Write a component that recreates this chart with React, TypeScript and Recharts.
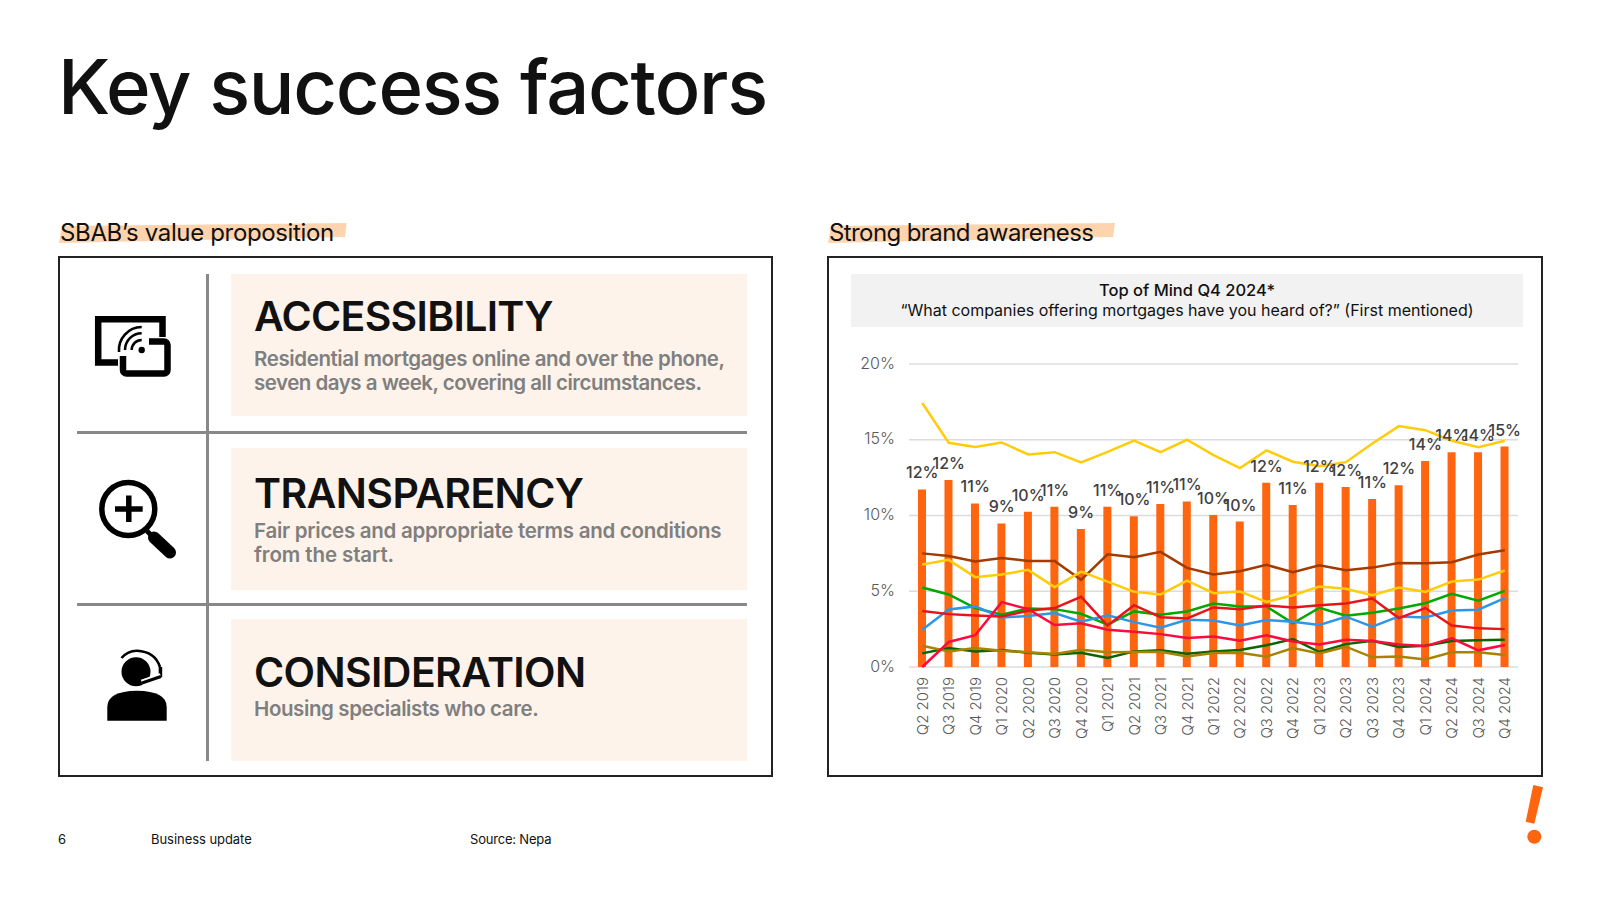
import React from "react"
import {
  ComposedChart,
  Bar,
  Line,
  XAxis,
  YAxis,
  CartesianGrid,
  LabelList,
} from "recharts"

const quarters = [
  "Q2 2019", "Q3 2019", "Q4 2019", "Q1 2020", "Q2 2020", "Q3 2020", "Q4 2020", "Q1 2021",
  "Q2 2021", "Q3 2021", "Q4 2021", "Q1 2022", "Q2 2022", "Q3 2022", "Q4 2022", "Q1 2023",
  "Q2 2023", "Q3 2023", "Q4 2023", "Q1 2024", "Q2 2024", "Q3 2024", "Q4 2024",
]
const sbab = [11.72, 12.34, 10.8, 9.48, 10.25, 10.58, 9.11, 10.58, 9.95, 10.76, 10.93, 10.03, 9.6, 12.16, 10.69, 12.16, 11.88, 11.09, 12.0, 13.6, 14.18, 14.18, 14.55]
const yellowTop = [17.43, 14.8, 14.53, 14.82, 14.03, 14.18, 13.5, 14.2, 14.95, 14.18, 15.0, 13.98, 13.13, 14.3, 13.55, 13.26, 13.52, 14.75, 15.9, 15.63, 14.93, 14.5, 14.93]
const brown = [7.5, 7.33, 6.96, 7.2, 7.0, 7.0, 5.75, 7.44, 7.25, 7.6, 6.54, 6.1, 6.32, 6.74, 6.26, 6.72, 6.39, 6.56, 6.87, 6.85, 6.92, 7.42, 7.7]
const yellowLow = [6.76, 7.07, 5.93, 6.1, 6.41, 5.27, 6.3, 5.64, 4.96, 4.79, 5.7, 4.87, 4.98, 4.3, 4.74, 5.31, 5.16, 4.74, 5.25, 4.96, 5.64, 5.77, 6.37]
const green = [5.25, 4.79, 3.89, 3.45, 3.86, 3.82, 3.51, 2.79, 3.67, 3.45, 3.67, 4.19, 4.0, 4.0, 2.88, 3.91, 3.38, 3.58, 3.86, 4.21, 4.83, 4.37, 5.03]
const blue = [2.46, 3.8, 4.0, 3.27, 3.36, 3.56, 2.99, 3.42, 2.96, 2.59, 3.12, 3.07, 2.74, 3.1, 2.99, 2.77, 3.32, 2.66, 3.34, 3.27, 3.73, 3.78, 4.54]
const red = [3.69, 3.49, 3.4, 3.34, 3.71, 3.89, 4.63, 2.74, 4.08, 3.29, 3.2, 3.93, 3.82, 4.06, 3.93, 4.08, 4.19, 4.52, 3.23, 3.89, 2.74, 2.55, 2.5]
const crimson = [0, 1.65, 2.1, 4.28, 3.82, 2.77, 2.88, 2.46, 2.33, 2.17, 1.91, 2.02, 1.73, 2.09, 1.69, 1.49, 1.8, 1.71, 1.49, 1.38, 1.89, 1.1, 1.45]
const darkGreen = [0.9, 1.25, 1.03, 1.12, 0.94, 0.83, 0.94, 0.59, 1.03, 1.1, 0.88, 1.03, 1.12, 1.43, 1.84, 0.99, 1.51, 1.73, 1.32, 1.4, 1.71, 1.76, 1.8]
const olive = [1.4, 1.03, 1.25, 1.08, 0.97, 0.86, 1.14, 0.97, 0.99, 1.01, 0.7, 0.92, 0.94, 0.68, 1.25, 0.9, 1.34, 0.64, 0.7, 0.5, 0.97, 0.97, 0.79]
const yTicks = [0, 5, 10, 15, 20]

const data = quarters.map((quarter, i) => ({
  quarter,
  sbab: sbab[i],
  yellowTop: yellowTop[i],
  brown: brown[i],
  yellowLow: yellowLow[i],
  green: green[i],
  blue: blue[i],
  red: red[i],
  crimson: crimson[i],
  darkGreen: darkGreen[i],
  olive: olive[i],
}))

const lineSeries = [
  { key: "darkGreen", color: "#0A6400" },
  { key: "olive", color: "#A88200" },
  { key: "green", color: "#00A800" },
  { key: "blue", color: "#2E96E8" },
  { key: "red", color: "#E8141C" },
  { key: "crimson", color: "#FF0A3C" },
  { key: "brown", color: "#A33B00" },
  { key: "yellowLow", color: "#FFCC0A" },
  { key: "yellowTop", color: "#FFCC0A" },
]

const FONT = "Inter, sans-serif"

function QuarterTick({ x, y, payload }: any) {
  return (
    <text
      x={x}
      y={y}
      transform={`rotate(-90 ${x} ${y})`}
      textAnchor="end"
      dominantBaseline="central"
      fontSize={15}
      fontWeight={300}
      fontFamily={FONT}
      fill="#595959"
    >
      {payload.value}
    </text>
  )
}

function AwarenessChart() {
  return (
    <ComposedChart
      width={700}
      height={420}
      data={data}
      margin={{ top: 24, right: 22, left: 0, bottom: 0 }}
      style={{ position: "absolute", left: 840, top: 340 }}
    >
      <CartesianGrid vertical={false} stroke="#DCDCDC" strokeWidth={1.5} />
      <XAxis
        dataKey="quarter"
        interval={0}
        height={93}
        axisLine={false}
        tickLine={false}
        tick={QuarterTick}
        tickMargin={4}
      />
      <YAxis
        domain={[0, 20]}
        ticks={yTicks}
        width={69}
        axisLine={false}
        tickLine={false}
        tickMargin={8}
        tickFormatter={(v: number) => `${v}%`}
        tick={{ fontSize: 16, fontWeight: 300, fontFamily: FONT, fill: "#595959", dy: -1 }}
      />
      <Bar dataKey="sbab" barSize={8} fill="#FF640F" isAnimationActive={false} />
      {lineSeries.map((s) => (
        <Line
          key={s.key}
          type="linear"
          dataKey={s.key}
          stroke={s.color}
          strokeWidth={2.5}
          dot={false}
          isAnimationActive={false}
        />
      ))}
      <Line dataKey="sbab" stroke="none" dot={false} isAnimationActive={false}>
        <LabelList
          dataKey="sbab"
          position="top"
          offset={11}
          formatter={(v: number) => `${Math.round(v)}%`}
          style={{ fontSize: 16, fontWeight: 500, fontFamily: FONT, fill: "#404040" }}
        />
      </Line>
    </ComposedChart>
  )
}

function Txt({ x, y, size, weight = 400, color = "#111", spacing = 0, children, style }: any) {
  return (
    <div
      style={{
        position: "absolute",
        left: x,
        top: y,
        fontSize: size,
        fontWeight: weight,
        color,
        letterSpacing: spacing,
        whiteSpace: "nowrap",
        lineHeight: 1,
        ...style,
      }}
    >
      {children}
    </div>
  )
}

function Box({ x, y, w, h, style }: any) {
  return <div style={{ position: "absolute", left: x, top: y, width: w, height: h, ...style }} />
}

// hand drawn icons, the highlights under the headings and the logo mark
function Decorations() {
  return (
    <svg width={1600} height={900} style={{ position: "absolute", left: 0, top: 0 }}>
      <polygon points="62,226 346.7,223 345,237 59,243" fill="#FDD4AE" />
      <polygon points="831,226 1115,223 1113,237 828,243" fill="#FDD4AE" />

      <g fill="none" stroke="#000" strokeWidth={6.5}>
        <path d="M162.5 337 V319.2 H98.2 V362.5 H118" />
        <path d="M149 341.5 H164 a3.5 3.5 0 0 1 3.5 3.5 V370 a3.5 3.5 0 0 1 -3.5 3.5 H126.5 a3.5 3.5 0 0 1 -3.5 -3.5 V356" />
      </g>
      <circle cx={141.7} cy={350} r={3.2} fill="#000" />
      <g fill="none" stroke="#000" strokeWidth={2.6}>
        <path d="M131.7 350 a10 10 0 0 1 10 -10" />
        <path d="M125 350 a16.7 16.7 0 0 1 16.7 -16.7" />
        <path d="M119 352 a23 23 0 0 1 22.7 -25" />
      </g>

      <circle cx={128.3} cy={509} r={26.5} fill="none" stroke="#000" strokeWidth={5.5} />
      <path d="M115 509 H142.7 M128.8 495.5 V522" stroke="#000" strokeWidth={5.5} fill="none" />
      <path d="M147 531 L152 536" stroke="#000" strokeWidth={5} />
      <path d="M154 537.5 L170 552.5" stroke="#000" strokeWidth={12} strokeLinecap="round" />

      <circle cx={136} cy={671.7} r={14.5} fill="#000" />
      <path d="M121.5 658 Q128 650.5 137 650.7 Q155 651.5 160 667" fill="none" stroke="#000" strokeWidth={2.6} />
      <rect x={158.7} y={667} width={3.5} height={10} fill="#000" />
      <path d="M161 676.5 L142 683" stroke="#fff" strokeWidth={7} />
      <path d="M161 676.5 L142 683" stroke="#000" strokeWidth={3} />
      <path d="M107.3 720.7 V707 Q107.3 691 137 690.7 Q166.7 691 166.7 707 V720.7 Z" fill="#000" />

      <polygon points="1533.3,785 1543,787.3 1534.3,823.7 1525.7,821.7" fill="#FF640F" />
      <circle cx={1534.3} cy={836.7} r={7} fill="#FF640F" />
    </svg>
  )
}

export default function App() {
  return (
    <div
      style={{
        position: "absolute",
        left: 0,
        top: 0,
        width: 1600,
        height: 900,
        background: "#fff",
        overflow: "hidden",
        fontFamily: FONT,
      }}
    >
      <Decorations />
      <Txt x={58} y={48} size={76} weight={500} spacing={-1.3}>Key success factors</Txt>

      <Txt x={60} y={221} size={24} spacing={-0.35}>SBAB’s value proposition</Txt>
      <Txt x={829} y={221} size={24} spacing={-0.6}>Strong brand awareness</Txt>

      <Box x={58} y={256} w={711} h={517} style={{ border: "2px solid #222" }} />
      <Box x={827} y={256} w={712} h={517} style={{ border: "2px solid #222" }} />

      <Box x={231} y={274} w={516} h={142} style={{ background: "#FDF3EA" }} />
      <Box x={231} y={448} w={516} h={142} style={{ background: "#FDF3EA" }} />
      <Box x={231} y={619} w={516} h={142} style={{ background: "#FDF3EA" }} />
      <Box x={206} y={274} w={3} h={487} style={{ background: "#888" }} />
      <Box x={77} y={431} w={670} h={3} style={{ background: "#888" }} />
      <Box x={77} y={603} w={670} h={3} style={{ background: "#888" }} />

      <Txt x={254} y={296} size={41} weight={600} spacing={-0.7}>ACCESSIBILITY</Txt>
      <Txt x={254} y={349} size={20.5} weight={600} color="#7F7F7F" spacing={-0.4}>Residential mortgages online and over the phone,</Txt>
      <Txt x={254} y={373} size={20.5} weight={600} color="#7F7F7F" spacing={-0.5}>seven days a week, covering all circumstances.</Txt>

      <Txt x={254} y={473} size={41} weight={600} spacing={-0.6}>TRANSPARENCY</Txt>
      <Txt x={254} y={521} size={20.5} weight={600} color="#7F7F7F" spacing={-0.27}>Fair prices and appropriate terms and conditions</Txt>
      <Txt x={254} y={545} size={20.5} weight={600} color="#7F7F7F" spacing={-0.1}>from the start.</Txt>

      <Txt x={254} y={652} size={41} weight={600} spacing={-0.6}>CONSIDERATION</Txt>
      <Txt x={254} y={699} size={20.5} weight={600} color="#7F7F7F" spacing={-0.4}>Housing specialists who care.</Txt>

      <Box x={851} y={274} w={672} h={53} style={{ background: "#F2F2F2" }} />
      <Txt x={851} y={282} size={16.5} weight={500} style={{ width: 672, textAlign: "center" }}>Top of Mind Q4 2024*</Txt>
      <Txt x={851} y={302} size={16} style={{ width: 672, textAlign: "center" }}>“What companies offering mortgages have you heard of?” (First mentioned)</Txt>

      <AwarenessChart />

      <Txt x={58} y={833} size={13}>6</Txt>
      <Txt x={151} y={833} size={13} spacing={-0.05}>Business update</Txt>
      <Txt x={470} y={833} size={13} spacing={-0.2}>Source: Nepa</Txt>
    </div>
  )
}
